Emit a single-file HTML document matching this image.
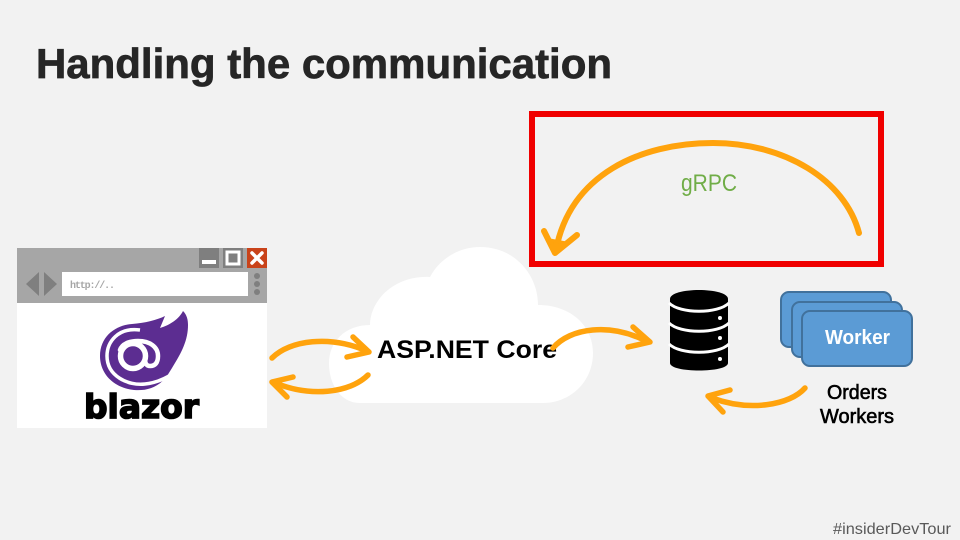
<!DOCTYPE html>
<html><head><meta charset="utf-8"><style>
html,body{margin:0;padding:0;background:#f2f2f2;width:960px;height:540px;overflow:hidden}
svg{display:block}
text{font-family:"Liberation Sans",sans-serif}
</style></head><body>
<svg width="960" height="540" viewBox="0 0 960 540" xmlns="http://www.w3.org/2000/svg">
<rect width="960" height="540" fill="#f2f2f2"/>
<text x="36" y="78" font-size="42" font-weight="700" fill="#262626" stroke="#262626" stroke-width=".7" textLength="576" lengthAdjust="spacingAndGlyphs">Handling the communication</text>

<!-- red box -->
<rect x="532" y="114" width="349" height="150" fill="none" stroke="#f00000" stroke-width="6"/>
<text x="681" y="191" font-size="24" fill="#70ad47" textLength="56" lengthAdjust="spacingAndGlyphs">gRPC</text>
<g fill="none" stroke="#ffa30d" stroke-linecap="round" stroke-linejoin="round">
<path d="M859 233C845 180 785 143 713 143C640 143 570 175 556 250" stroke-width="6"/>
<path d="M544 231L555 253L577 235" stroke-width="6"/>
<path d="M550 240L556 252L566 243Z" stroke-width="3" fill="#ffa30d"/>
</g>

<!-- browser -->
<rect x="17" y="248" width="250" height="180" fill="#fff"/>
<rect x="17" y="248" width="250" height="55" fill="#a6a6a6"/>
<rect x="199" y="248" width="20" height="20" fill="#7f7f7f"/>
<rect x="202" y="260" width="14" height="4" fill="#fff"/>
<rect x="223" y="248" width="20" height="20" fill="#7f7f7f"/>
<rect x="227" y="252" width="12" height="12" fill="none" stroke="#fff" stroke-width="3"/>
<rect x="247" y="248" width="20" height="20" fill="#c9431a"/>
<path d="M252 253L262 263M262 253L252 263" stroke="#fff" stroke-width="3.5" stroke-linecap="round"/>
<path d="M39 272V296L26 284Z" fill="#7f7f7f"/>
<path d="M44 272V296L57 284Z" fill="#7f7f7f"/>
<rect x="62" y="272" width="186" height="24" fill="#fff"/>
<text x="70" y="288" font-size="10" style="font-family:'Liberation Mono',monospace" fill="#a6a6a6" font-weight="700" textLength="45">http://..</text>
<circle cx="257" cy="276" r="3" fill="#7f7f7f"/>
<circle cx="257" cy="284" r="3" fill="#7f7f7f"/>
<circle cx="257" cy="292" r="3" fill="#7f7f7f"/>

<!-- blazor logo -->
<path d="M100 356C100 336 116 325 132 324C145 323 157 320 165 316L160 328C170 325 179 319 183 311C187 315 188 320 188 325C188 340 182 352 172 368L167 376C158 388 146 391 134 390C114 388 100 374 100 356Z" fill="#5c2d91"/>
<path d="M140 330C118 327 107 342 107 356C107 376 128 386 145 384C155 383 162 380 169 376" fill="none" stroke="#fff" stroke-width="3.5"/>
<circle cx="133" cy="356" r="12.5" fill="none" stroke="#fff" stroke-width="5.5"/>
<path d="M120 350C122 344 129 341 138 341C150 341 158 347 158 356C158 363 155 366 150 366C146 366 145 363 145 358" fill="none" stroke="#fff" stroke-width="4.5" stroke-linecap="round"/>
<text x="84" y="418" font-size="33" font-weight="700" fill="#000" stroke="#000" stroke-width="1.6" textLength="115" lengthAdjust="spacingAndGlyphs" style="font-family:'DejaVu Sans',sans-serif">blazor</text>

<!-- cloud -->
<path d="M360 403C341 403 329 385 329 363C329 342 345 325 370 325C370 300 395 275 430 277C440 258 460 247 480 247C515 247 538 275 538 305C570 305 593 325 593 353C593 382 570 403 543 403Z" fill="#fff"/>
<text x="377" y="358" font-size="25" font-weight="700" fill="#000" textLength="180" lengthAdjust="spacingAndGlyphs">ASP.NET Core</text>

<!-- arrows -->
<g fill="none" stroke="#ffa30d" stroke-width="5.5" stroke-linecap="round" stroke-linejoin="round">
<path d="M272 358C290 340 330 335 367 351"/>
<path d="M353 337L369 352L347 357"/>
<path d="M368 375C350 393 310 398 273 382"/>
<path d="M293 377L272 382L287 397"/>
<path d="M553 348C570 328 610 322 648 342"/>
<path d="M633 327L650 342L628 347"/>
<path d="M805 388C790 405 750 412 712 398"/>
<path d="M730 390L708 396L723 412"/>
</g>

<!-- database -->
<path d="M670 299C670 287 728 287 728 299V363C728 373 670 373 670 363Z" fill="#000"/>
<g fill="none" stroke="#fff" stroke-width="3">
<path d="M669 303C680 314 718 314 729 303"/>
<path d="M669 323C680 334 718 334 729 323"/>
<path d="M669 344C680 355 718 355 729 344"/>
</g>
<circle cx="720" cy="318" r="2" fill="#fff"/>
<circle cx="720" cy="338" r="2" fill="#fff"/>
<circle cx="720" cy="359" r="2" fill="#fff"/>

<!-- workers -->
<rect x="781" y="292" width="110" height="55" rx="8" fill="#5b9bd5" stroke="#41719c" stroke-width="2"/>
<rect x="792" y="302" width="110" height="55" rx="8" fill="#5b9bd5" stroke="#41719c" stroke-width="2"/>
<rect x="802" y="311" width="110" height="55" rx="8" fill="#5b9bd5" stroke="#41719c" stroke-width="2"/>
<text x="825" y="344" font-size="20" font-weight="700" fill="#fff" textLength="65" lengthAdjust="spacingAndGlyphs">Worker</text>
<text x="827" y="399" font-size="20" fill="#000" stroke="#000" stroke-width=".6" textLength="60" lengthAdjust="spacingAndGlyphs">Orders</text>
<text x="820" y="423" font-size="20" fill="#000" stroke="#000" stroke-width=".6" textLength="74" lengthAdjust="spacingAndGlyphs">Workers</text>

<text x="833" y="534" font-size="16" fill="#595959" textLength="118" lengthAdjust="spacingAndGlyphs">#insiderDevTour</text>
</svg>
</body></html>
